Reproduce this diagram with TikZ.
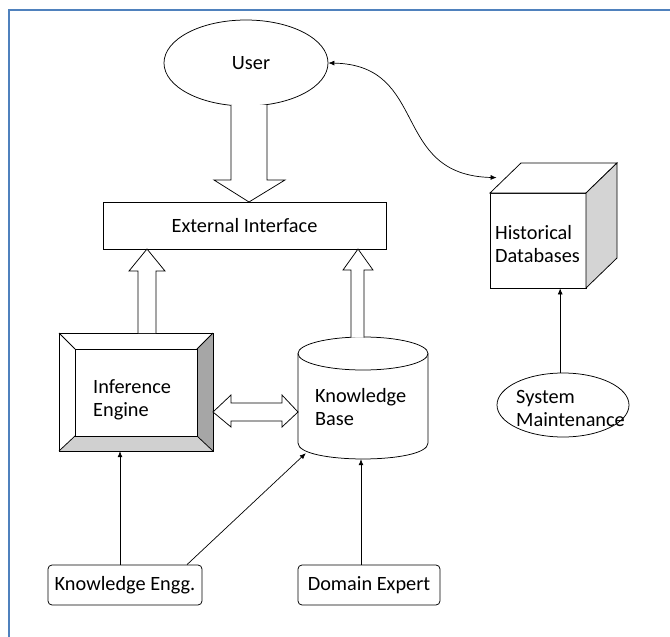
\documentclass[tikz,border=0pt]{standalone}
\usepackage{fontspec}
\setmainfont{Carlito}
\usetikzlibrary{arrows.meta,shapes.geometric,calc}
\definecolor{frameblue}{HTML}{4F81BD}
\definecolor{bevdark}{HTML}{A6A6A6}
\definecolor{bevlight}{HTML}{D0D0D0}
\definecolor{cubegray}{HTML}{D4D4D4}
\tikzset{
  every node/.style={font=\fontsize{20.3}{22.5}\selectfont, inner sep=0pt},
  box/.style={draw, line width=0.75pt},
  lbl/.style={anchor=west, align=left},
  thinarrow/.style={draw, line width=0.7pt, -{Latex[length=6pt,width=5pt]}},
  block/.style={draw, line width=0.75pt, fill=white, line join=miter},
  roundbox/.style={draw, line width=0.75pt, rounded corners=4pt},
}
\begin{document}
\begin{tikzpicture}[x=1pt,y=-1pt]
\useasboundingbox (0,0) rectangle (670,637);
\draw[frameblue, line width=2pt] (9,637) -- (9,10) -- (670,10);

% User
\node[ellipse, box, minimum width=164pt, minimum height=86pt] (user) at (246,63) {\hspace*{10pt}User};
% External interface
\node[box, minimum width=283pt, minimum height=47pt] (ei) at (244.5,225.5) {External Interface};

% Inference engine (bevel)
\node[minimum width=154pt, minimum height=118pt] (ie) at (136,392) {};
\fill[bevdark] (213,333) -- (213,451) -- (197,436) -- (197,349) -- cycle;
\fill[bevlight] (213,451) -- (59,451) -- (75,436) -- (197,436) -- cycle;
\draw[box] (59,333) rectangle (213,451);
\draw[box] (75,349) rectangle (197,436);
\draw[box] (59,333) -- (75,349) (213,333) -- (197,349) (213,451) -- (197,436) (59,451) -- (75,436);
\node[lbl] (ietext) at (93,400) {Inference\\Engine};

% Knowledge base (cylinder)
\node[minimum width=130pt, minimum height=122pt] (kb) at (363,398) {};
\draw[box, fill=white] (298,353.5) -- (298,443) .. controls (298,464.3) and (428,464.3) .. (428,443) -- (428,353.5);
\draw[box] (363,353.5) ellipse [x radius=65, y radius=16.5];
\node[lbl] (kbtext) at (315,407) {Knowledge\\Base};

% Historical databases (cube)
\node[box, minimum width=96pt, minimum height=95pt] (hd) at (538,240.5) {};
\draw[box, fill=white] (490,193) -- (521,163) -- (617,163) -- (586,193) -- cycle;
\draw[box, fill=cubegray] (586,193) -- (617,163) -- (617,258) -- (586,288) -- cycle;
\node[lbl] (hdtext) at (495,244) {Historical\\Databases};

% System maintenance
\node[ellipse, box, minimum width=132pt, minimum height=64pt] (sm) at (563,405) {};
\node[lbl] (smtext) at (516,408.5) {System\\Maintenance};

% Bottom boxes
\node[roundbox, minimum width=154pt, minimum height=40pt] (ke) at (125,585) {Knowledge Engg.};
\node[roundbox, minimum width=142pt, minimum height=40pt] (de) at (369,585) {Domain Expert};

% Block arrows
\draw[block] (231,105) -- (231,180) -- (214,180) -- (249,202) -- (285,180) -- (267,180) -- (267,105);
\draw[block] (138,333) -- (138,271) -- (129,271) -- (147,249) -- (165,271) -- (156,271) -- (156,333);
\draw[block] (351,337.5) -- (351,270) -- (343,270) -- (358,249) -- (373,270) -- (364,270) -- (364,337.5);
\draw[block] (213,412) -- (231,395) -- (231,403) -- (282,403) -- (282,395) -- (298,412) -- (282,427) -- (282,421) -- (231,421) -- (231,427) -- cycle;

% Thin connectors
\draw[thinarrow] (sm.95) -- (sm.95 |- hd.south);
\draw[thinarrow] ([xshift=-5pt]ke.north) -- ([xshift=-5pt]ke.north |- ie.south);
\draw[thinarrow] ([xshift=62pt]ke.north) -- ($(kb.south west)+(8,-6)$);
\draw[thinarrow] ([xshift=-8pt]de.north) -- ([xshift=-8pt]de.north |- kb.south);
\draw[line width=0.7pt, {Latex[length=6pt,width=5pt]}-{Latex[length=6pt,width=5pt]}]
  (user.east) .. controls (430,65) and (390,175) .. ($(hd.north west)+(7,-15)$);
\end{tikzpicture}
\end{document}
